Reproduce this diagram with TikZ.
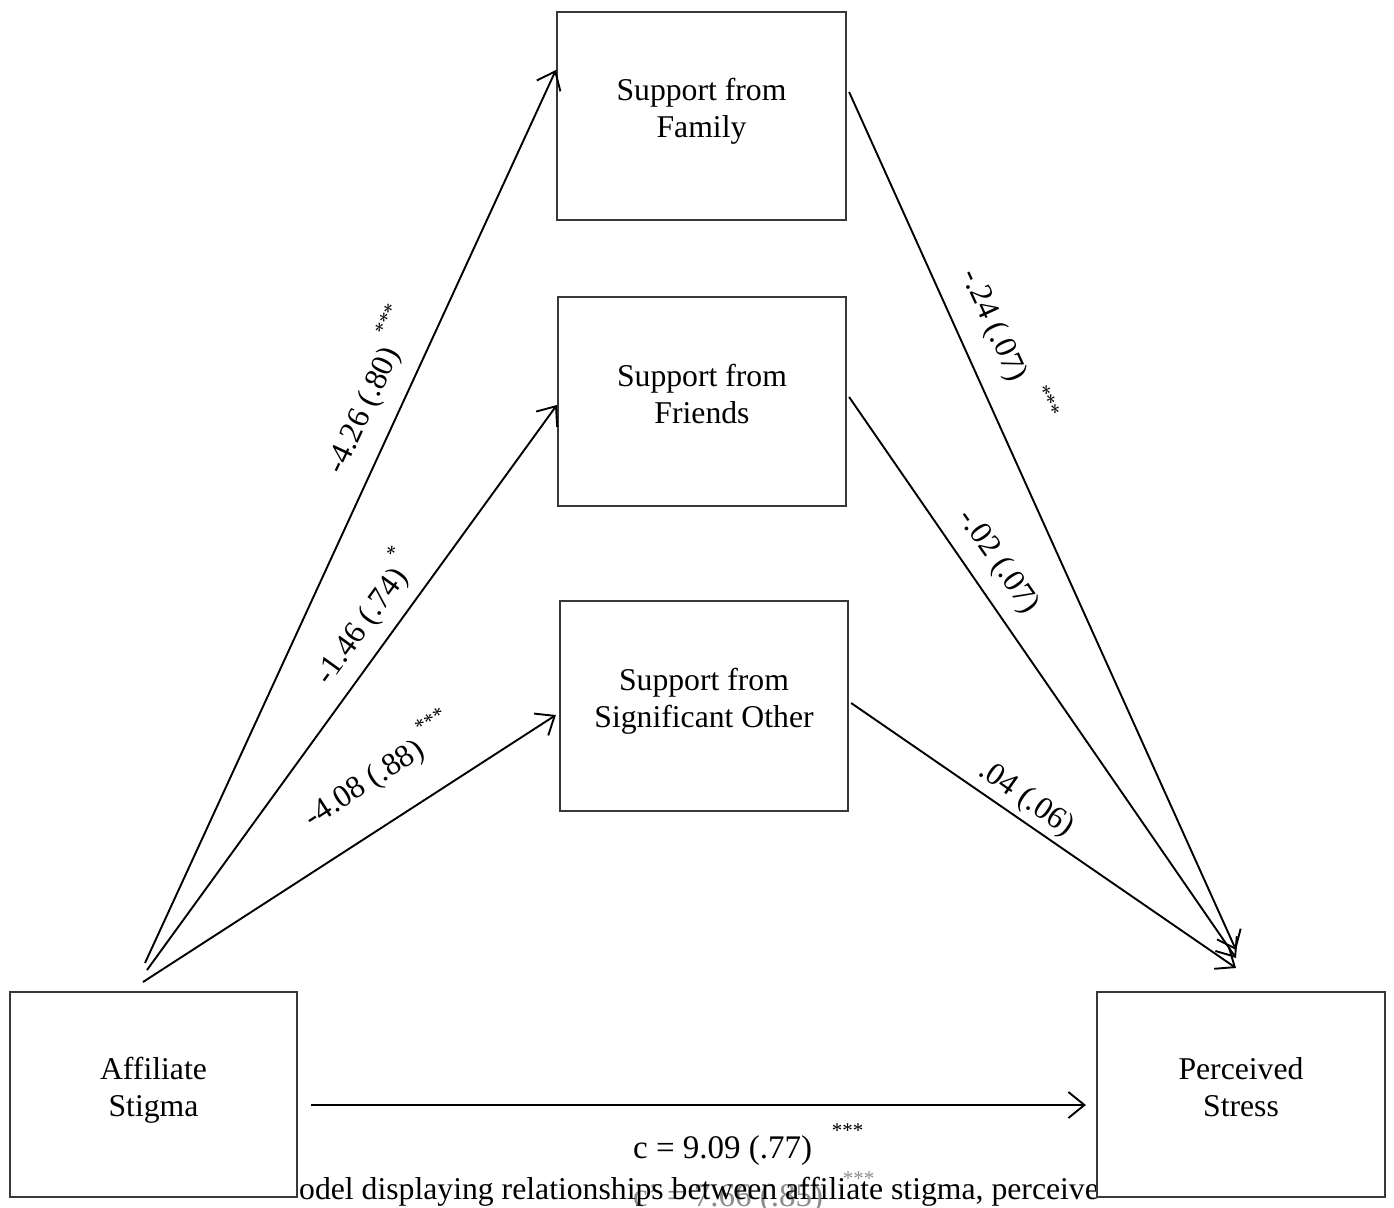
\documentclass[tikz,border=0pt]{standalone}
\usepackage{fontspec}
\setmainfont{Liberation Serif}
\usetikzlibrary{arrows.meta,calc}
\newcommand\stars[1]{\raisebox{0.62em}{\fontsize{21}{21}\selectfont #1}}
\begin{document}
\begin{tikzpicture}[x=1pt,y=-1pt,
  txt/.style={font=\fontsize{31.7}{37}\selectfont},
  box/.style={txt, draw=black!78, line width=2.2pt, fill=white, align=center, inner sep=0pt, text depth=16pt},
  conn/.style={line width=1.9pt, -{Straight Barb[length=16pt,width=26pt,line width=1.9pt]}},
  lbl/.style={txt, inner sep=0pt}]
\useasboundingbox (0,0) rectangle (1394,1207);
% text lines behind the bottom boxes
\node[txt, font=\fontsize{33}{37}\selectfont, text=black!45, anchor=base west, inner sep=0pt] (cprime) at (633,1206) {c’ = 7.66 (.85)\hspace{0.6em}\stars{***}};
\node[txt, anchor=base west, inner sep=0pt] (caption) at (299,1199) {odel displaying relationships between affiliate stigma, perceive};
% boxes
\node[box, minimum width=289pt, minimum height=208pt] (fam) at (701.5,116) {Support from\\Family};
\node[box, minimum width=288pt, minimum height=209pt] (fri) at (702,401.5) {Support from\\Friends};
\node[box, minimum width=288pt, minimum height=210pt] (sig) at (704,706) {Support from\\Significant Other};
\node[box, minimum width=287pt, minimum height=205pt] (aff) at (153.5,1094.5) {Affiliate\\Stigma};
\node[box, minimum width=288pt, minimum height=205pt] (per) at (1241,1094.5) {Perceived\\Stress};
% free ends
\coordinate (s1) at (145,963);
\coordinate (s2) at (147,970);
\coordinate (s3) at (143,982);
\coordinate (e4) at (1236,950);
\coordinate (e5) at (1236,958);
\coordinate (e6) at (1236,968);
% connectors
\draw[conn] (s1) -- ([yshift=46pt]fam.west);
\draw[conn] (s2) -- ([yshift=-3.5pt]fri.west);
\draw[conn] (s3) -- ([xshift=-3pt,yshift=-9pt]sig.west);
\draw[conn] ([xshift=2pt,yshift=24pt]fam.east) -- (e4);
\draw[conn] ([xshift=2pt,yshift=4.5pt]fri.east) -- (e5);
\draw[conn] ([xshift=2pt,yshift=3pt]sig.east) -- (e6);
\draw[conn] ($(aff.east)+(13,10.5)$) -- ($(per.west)+(-10,10.5)$);
% labels
\node[lbl, rotate=65] (l1) at (368,390) {-4.26 (.80)\hspace{0.3em}\stars{***}};
\node[lbl, rotate=54] (l2) at (363,617) {-1.46 (.74)\hspace{0.2em}\stars{*}};
\node[lbl, rotate=33] (l3) at (378,770) {-4.08 (.88)\hspace{0.2em}\stars{***}};
\node[lbl, rotate=-65.5] (l4) at (1008,345) {-.24 (.07)\hspace{0.5em}\stars{***}};
\node[lbl, rotate=-55] (l5) at (998,562) {-.02 (.07)};
\node[lbl, rotate=-35] (l6) at (1026,799) {.04 (.06)};
\node[txt, font=\fontsize{33}{37}\selectfont, anchor=base west, inner sep=0pt] (lc) at (633,1158) {c = 9.09 (.77)\hspace{0.6em}\stars{***}};
\end{tikzpicture}
\end{document}
